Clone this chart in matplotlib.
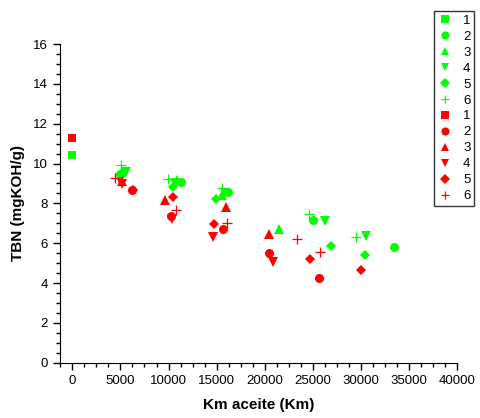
import matplotlib
matplotlib.use("Agg")
import matplotlib.pyplot as plt
from matplotlib.ticker import MultipleLocator

plt.rcParams["font.family"] = ["Liberation Sans", "DejaVu Sans"]

# green series (km, TBN)
g1_km = [0]
g1_tbn = [10.43]
g2_km = [4956, 11293, 16177, 25039, 33392]
g2_tbn = [9.47, 9.07, 8.57, 7.16, 5.79]
g3_km = [5164, 10878, 15600, 21506]
g3_tbn = [9.62, 9.17, 8.40, 6.71]
g4_km = [5579, 10670, 15900, 26286, 30566]
g4_tbn = [9.57, 9.02, 8.50, 7.11, 6.38]
g5_km = [5060, 10462, 14930, 26878, 30410]
g5_tbn = [9.37, 8.82, 8.21, 5.87, 5.39]
g6_km = [5029, 9943, 15522, 24623, 29475]
g6_tbn = [9.93, 9.22, 8.75, 7.47, 6.30]

# red series (km, TBN)
r1_km = [0]
r1_tbn = [11.28]
r2_km = [6171, 10255, 15689, 20436, 25663]
r2_tbn = [8.67, 7.36, 6.70, 5.49, 4.24]
r3_km = [5164, 9631, 15938, 20436]
r3_tbn = [9.12, 8.17, 7.80, 6.46]
r4_km = [5164, 10327, 14650, 20821]
r4_tbn = [8.97, 7.20, 6.33, 5.04]
r5_km = [6306, 10494, 14722, 24696, 29964]
r5_tbn = [8.67, 8.33, 6.95, 5.21, 4.65]
r6_km = [4447, 10774, 16042, 23314, 25735]
r6_tbn = [9.26, 7.67, 7.00, 6.21, 5.54]

labels = ["1", "2", "3", "4", "5", "6"]
markers = ["s", "o", "^", "v", "D", "+"]
sizes = [6, 6.5, 7, 7, 5.5, 7]

green = [(g1_km, g1_tbn), (g2_km, g2_tbn), (g3_km, g3_tbn),
         (g4_km, g4_tbn), (g5_km, g5_tbn), (g6_km, g6_tbn)]
red = [(r1_km, r1_tbn), (r2_km, r2_tbn), (r3_km, r3_tbn),
       (r4_km, r4_tbn), (r5_km, r5_tbn), (r6_km, r6_tbn)]

fig = plt.figure(figsize=(4.81, 4.18), dpi=100)
ax = fig.add_axes([0.1247, 0.1323, 0.826, 0.7624])

handles = []
for color, series in (("#00ff00", green), ("#ff0000", red)):
    for (xs, ys), mk, ms, lab in zip(series, markers, sizes, labels):
        h, = ax.plot(xs, ys, linestyle="none", marker=mk, markersize=ms,
                     color=color, markeredgewidth=0.9 if mk == "+" else 0,
                     label=lab)
        handles.append(h)

ax.set_xlim(-1280, 40000)
ax.set_ylim(0, 16)
ax.xaxis.set_major_locator(MultipleLocator(5000))
ax.xaxis.set_minor_locator(MultipleLocator(1250))
ax.yaxis.set_major_locator(MultipleLocator(2))
ax.yaxis.set_minor_locator(MultipleLocator(0.5))
for side in ("top", "right"):
    ax.spines[side].set_visible(False)
ax.tick_params(which="major", direction="out", length=5, labelsize=9.5,
               width=1)
ax.tick_params(which="minor", direction="out", length=3, width=1)
ax.set_xlabel("Km aceite (Km)", fontsize=11, fontweight="bold", labelpad=8)
ax.set_ylabel("TBN (mgKOH/g)", fontsize=11, fontweight="bold", labelpad=6)

leg = fig.legend(handles=handles, loc="upper left",
                 bbox_to_anchor=(434 / 481, 1 - 10.7 / 418),
                 fontsize=9.5, frameon=True, fancybox=False,
                 handlelength=1.0, handletextpad=0.9, labelspacing=0.28,
                 borderpad=0.3, borderaxespad=0, numpoints=1,
                 markerscale=0.9)
leg.get_frame().set_edgecolor("black")
leg.get_frame().set_linewidth(1.0)

fig.savefig("out.png", dpi=100)
